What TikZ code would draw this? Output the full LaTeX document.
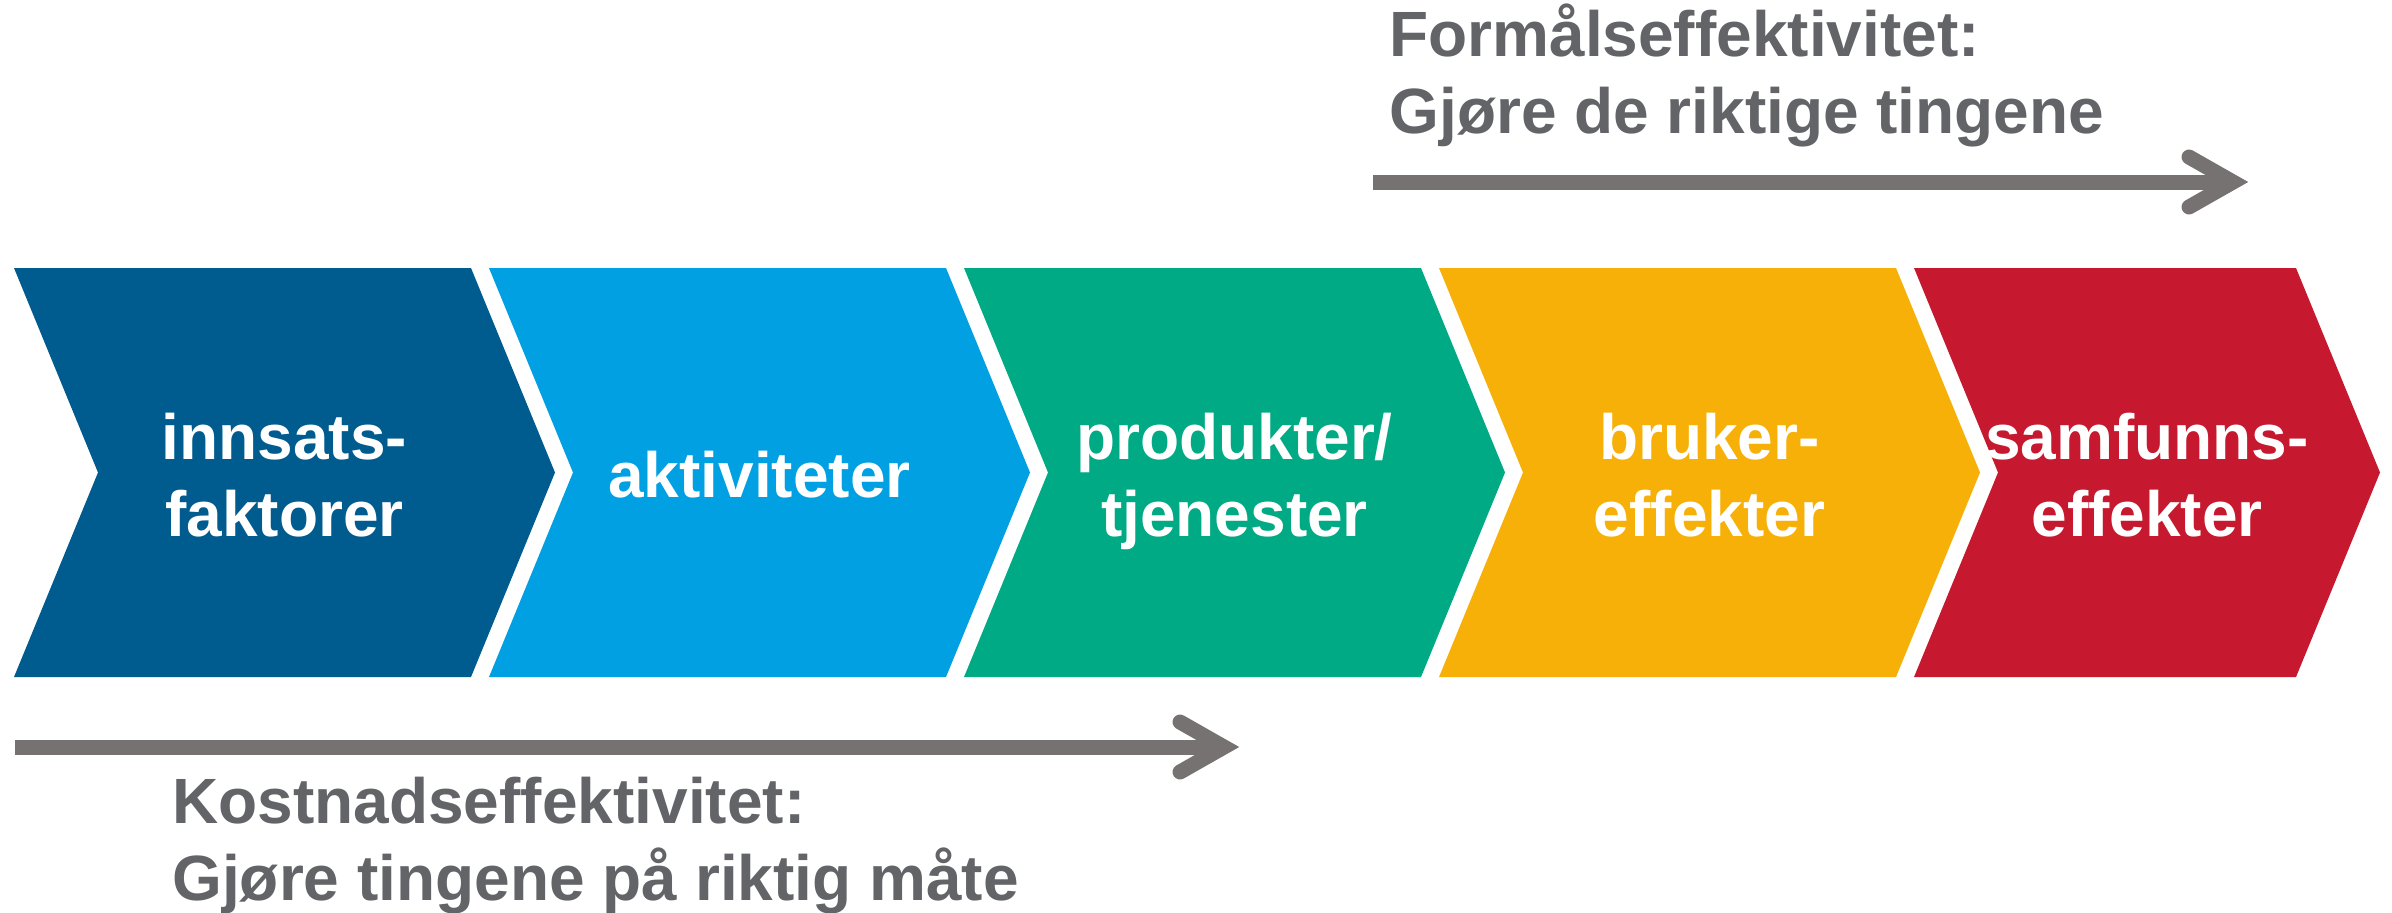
\documentclass[tikz,border=0pt]{standalone}
\usepackage{fontspec}
\setmainfont{Liberation Sans}
\definecolor{cDark}{RGB}{0,91,143}
\definecolor{cLight}{RGB}{0,160,227}
\definecolor{cGreen}{RGB}{0,170,132}
\definecolor{cYellow}{RGB}{247,176,8}
\definecolor{cRed}{RGB}{198,24,46}
\definecolor{cArrow}{RGB}{118,114,113}
\definecolor{cText}{RGB}{99,100,104}
\newcommand\mychev[3]{%
  \fill[#3] (#1,268) -- ++(#2,0) -- ++(84,204.5) -- ++(-84,204.5) -- ++(-#2,0) -- ++(84,-204.5) -- cycle;}
\begin{document}
\begin{tikzpicture}[x=0.5pt,y=-0.5pt,
  lbl/.style={text=white, font=\bfseries\fontsize{32pt}{38.5pt}\selectfont, align=center, inner sep=0pt, anchor=base},
  capt/.style={text=cText, font=\bfseries\fontsize{32pt}{38.5pt}\selectfont, align=left, inner sep=0pt, anchor=base west},
  shaft/.style={draw=cArrow, line width=7.5pt},
  head/.style={draw=cArrow, line width=7.5pt, line cap=round, line join=miter}]
\fill[white] (0,0) rectangle (2392,912);
\useasboundingbox (0,0) rectangle (2392,912);
% chevrons
\mychev{14}{457}{cDark}
\mychev{489}{457}{cLight}
\mychev{964}{457}{cGreen}
\mychev{1439}{457}{cYellow}
\mychev{1914}{382}{cRed}
% chevron labels (anchor = baseline of last line)
\node[lbl] (t1) at (284.5,536) {innsats-\\faktorer};
\node[lbl] (t2) at (759.5,497) {aktiviteter};
\node[lbl] (t3) at (1234.5,536) {produkter/\\tjenester};
\node[lbl] (t4) at (1709.5,536) {bruker-\\effekter};
\node[lbl] (t5) at (2147,536) {samfunns-\\effekter};
% upper arrow
\coordinate (fs) at (1373,182);
\coordinate (fe) at (2233,182);
\coordinate (fa) at (2189,157);
\coordinate (fb) at (2189,207);
\draw[shaft] (fs) -- (fe);
\draw[head] (fa) -- (fe) -- (fb);
% lower arrow
\coordinate (ks) at (15,747);
\coordinate (ke) at (1224,747);
\coordinate (ka) at (1180,722);
\coordinate (kb) at (1180,772);
\draw[shaft] (ks) -- (ke);
\draw[head] (ka) -- (ke) -- (kb);
% captions
\node[capt] (formal) at (1389,133) {Formålseffektivitet:\\Gjøre de riktige tingene};
\node[capt] (kost) at (172,900) {Kostnadseffektivitet:\\Gjøre tingene på riktig måte};
\end{tikzpicture}
\end{document}
